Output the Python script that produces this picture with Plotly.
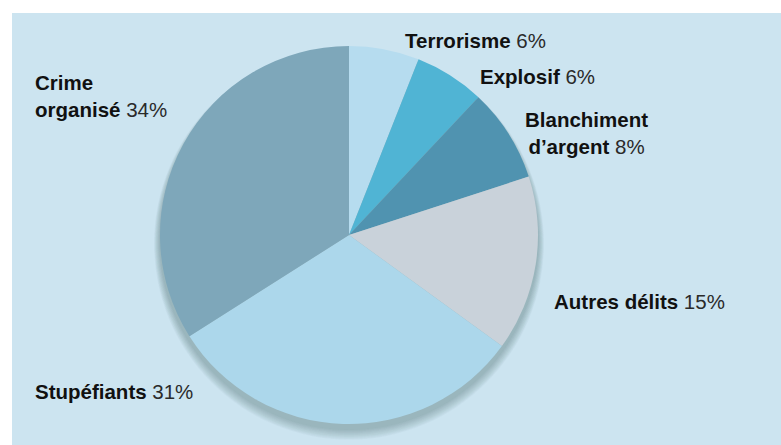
import plotly.graph_objects as go

W, H = 781, 445

categories = ["Terrorisme", "Explosif", "Blanchiment d’argent", "Autres délits", "Stupéfiants", "Crime organisé"]
values = [6, 6, 8, 15, 31, 34]
colors = ["#b6dcef", "#50b4d4", "#5093b0", "#c9d2da", "#acd7eb", "#7ea7ba"]

# labels: (list of (bold, regular) lines, left px, center-y px of block, align)
labels = [
    ([("Terrorisme", " 6%")], 403, 41, "left"),
    ([("Explosif", " 6%")], 478, 76, "left"),
    ([("Blanchiment", ""), ("d’argent", " 8%")], 523, 133, "center"),
    ([("Autres délits", " 15%")], 552, 301, "left"),
    ([("Stupéfiants", " 31%")], 33, 391, "left"),
    ([("Crime", ""), ("organisé", " 34%")], 33, 96, "left"),
]

cx, cy, r = 349, 235, 189

def px(x):
    return x / W

def py(y):
    return 1 - y / H

shapes = [
    dict(type="rect", xref="paper", yref="paper", x0=px(12), x1=1, y0=0, y1=py(13),
         fillcolor="#cce4f0", line=dict(width=0), layer="below"),
]
# soft drop shadow under the pie
for k in range(12, 0, -1):
    shapes.append(dict(type="circle", xref="paper", yref="paper",
                       x0=px(cx - r - k * 0.5), x1=px(cx + r + k * 0.5),
                       y0=py(cy + 5 + r + k * 0.9), y1=py(cy + 5 - r - k * 0.3),
                       fillcolor="rgba(60,80,95,0.03)", line=dict(width=0), layer="below"))

fig = go.Figure(go.Pie(
    labels=categories,
    values=values,
    sort=False,
    direction="clockwise",
    rotation=0,
    marker=dict(colors=colors, line=dict(width=0)),
    textinfo="none",
    hoverinfo="label+percent",
    domain=dict(x=[px(cx - r), px(cx + r)], y=[py(cy + r), py(cy - r)]),
    showlegend=False,
))

annotations = []
for lines, x, y, align in labels:
    text = "<br>".join(
        f"<b>{b}</b>" + (f"<span style='color:#2a2a2a'>{reg}</span>" if reg else "")
        for b, reg in lines
    )
    annotations.append(dict(
        text=text, x=px(x), y=py(y), xref="paper", yref="paper",
        xanchor="left", yanchor="middle", align=align, showarrow=False,
        font=dict(family="Liberation Sans, Arial, sans-serif", size=20.5, color="#111111"),
    ))

fig.update_layout(
    width=W, height=H,
    margin=dict(l=0, r=0, t=0, b=0),
    paper_bgcolor="white",
    plot_bgcolor="white",
    shapes=shapes,
    annotations=annotations,
)

fig.write_html("out.html")
